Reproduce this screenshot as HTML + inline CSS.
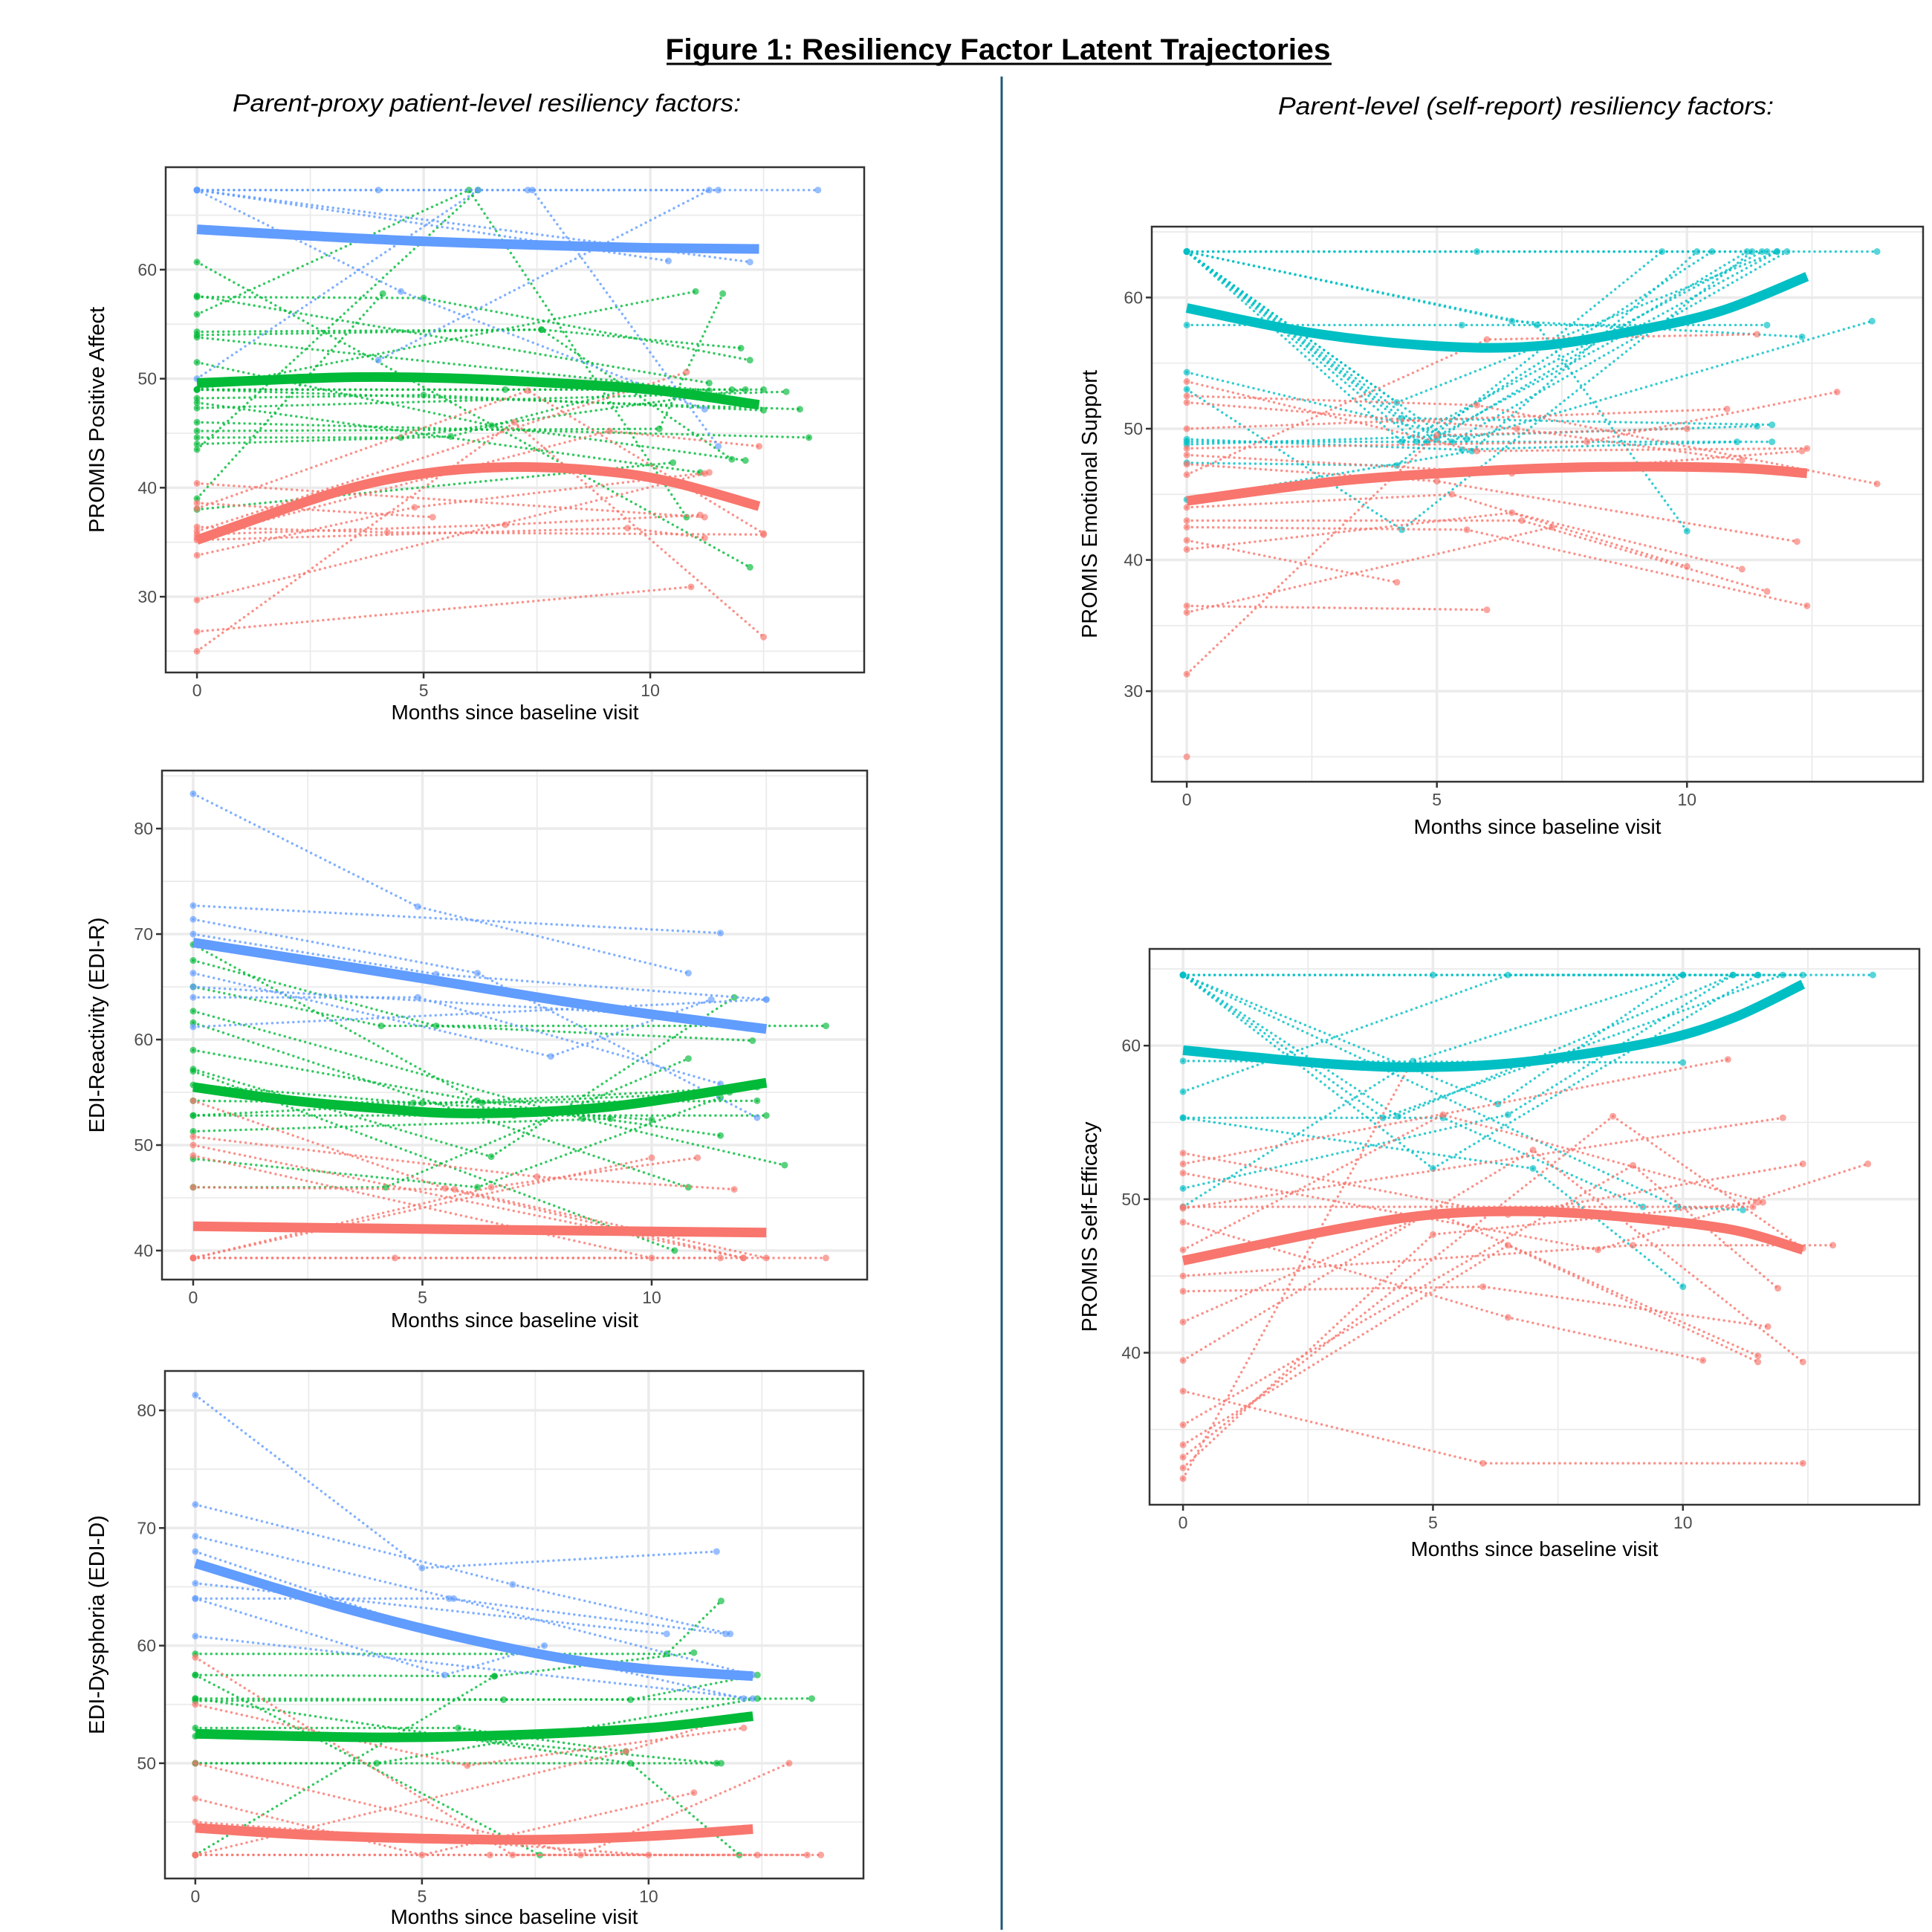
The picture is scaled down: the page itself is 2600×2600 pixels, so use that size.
<!DOCTYPE html>
<html><head><meta charset="utf-8"><style>
html,body{margin:0;padding:0;background:#fff;}
svg{display:block;}
</style></head><body>
<svg id="fig" width="2600" height="2600" viewBox="0 0 2600 2600" xmlns="http://www.w3.org/2000/svg">
<rect width="2600" height="2600" fill="#fff"/>
<text x="1343" y="80" text-anchor="middle" font-family="'Liberation Sans Narrow','Liberation Sans',sans-serif" font-weight="bold" font-size="40" textLength="895" lengthAdjust="spacingAndGlyphs">Figure 1: Resiliency Factor Latent Trajectories</text>
<line x1="897" y1="86" x2="1792" y2="86" stroke="#000" stroke-width="3"/>
<line x1="1348" y1="103" x2="1348" y2="2597" stroke="#1f5a73" stroke-width="3"/>
<text x="313" y="150" font-family="'Liberation Sans Narrow','Liberation Sans',sans-serif" font-style="italic" font-size="33" textLength="684" lengthAdjust="spacingAndGlyphs">Parent-proxy patient-level resiliency factors:</text>
<text x="1720" y="154" font-family="'Liberation Sans Narrow','Liberation Sans',sans-serif" font-style="italic" font-size="33" textLength="667" lengthAdjust="spacingAndGlyphs">Parent-level (self-report) resiliency factors:</text>
<g id="panels"></g>
</svg>
<script>
// ---------- DATA ----------
const COLORS = {blue:'#619CFF', green:'#00BA38', red:'#F8766D', teal:'#00BFC4'};

// Panel 1: PROMIS Positive Affect
const p1Ticks = [30,40,50,60];
const p1BlueMean = [[0,63.7],[2.5,63.1],[5,62.6],[8,62.2],[10,62.0],[12.4,61.9]];
const p1GreenMean = [[0,49.6],[3,50.1],[5,50.1],[7,49.8],[10,49.0],[12.4,47.6]];
const p1RedMean = [[0,35.2],[3,39.5],[5,41.3],[7,41.9],[9,41.5],[10.5,40.5],[12.4,38.3]];
const p1Blue = [[[0,67.3],[13.7,67.3]],[[0,67.3],[4,67.3],[7.3,67.3],[11.5,67.3]],[[0,67.3],[12.2,60.7]],[[0,67.3],[4.5,58],[11.2,47.2]],[[0,50],[6.2,67.3]],[[4,51.7],[11.3,67.3]],[[7.4,67.3],[11.5,43.8]],[[0,67.3],[10.4,60.8]]];
const p1Green = [[[0,57.5],[5,57.4],[12.2,51.7]],[[0,54],[7.6,54.5],[12,52.8]],[[0,53.8],[11.3,48.9]],[[0,55.9],[6,67.3],[10.8,37.3]],[[0,49],[12.5,49]],[[0,49],[11,58]],[[0,47.3],[13,48.8]],[[0,46],[13.5,44.6]],[[0,44.6],[4.5,44.6],[12.1,49]],[[0,43.5],[6.2,67.3]],[[0,39],[4.1,57.8]],[[0,38],[10.5,42.3]],[[0,51.5],[6.5,45.7],[12.1,42.5]],[[0,60.7],[12.2,32.7]],[[0,45.2],[10.2,45.4],[11.6,57.8]],[[0,48.2],[5,48.5],[12.5,47.1]],[[0,54.3],[7.6,54.5],[11.8,42.6]],[[0,44],[5.6,44.7],[9.5,49]],[[0,49],[13.3,47.2]],[[0,57.6],[11.3,49.6]],[[0,47.8],[11.1,41.4]],[[0,49],[6.8,49],[11.8,49]]];
const p1Red = [[[0,40.4],[11.2,37.3]],[[0,38.6],[5.2,37.3]],[[0,38.1],[7.3,48.9],[12.5,35.8]],[[0,36],[10.8,50.6]],[[0,35.4],[9.1,45.2],[12.4,43.8]],[[0,36.4],[4.2,35.9],[12.5,35.7]],[[0,35.7],[6.8,36.6],[11.1,37.5]],[[0,33.8],[4.8,38.2],[11.3,41.4]],[[0,29.7],[11.2,41.3]],[[0,26.8],[10.9,30.9]],[[0,25],[7,46],[12.5,26.3]],[[0,35.2],[9.5,36.3],[11.2,35.4]]];

// Panel 2: EDI-Reactivity
const p2Ticks = [40,50,60,70,80];
const p2BlueMean = [[0,69.2],[2.5,67.5],[5,65.8],[9,63],[12.5,61]];
const p2GreenMean = [[0,55.5],[2,54.3],[4,53.5],[6,53],[9,53.6],[12.5,55.9]];
const p2RedMean = [[0,42.3],[6,42],[12.5,41.7]];
const p2Blue = [[[0,83.3],[4.9,72.6],[10.8,66.3]],[[0,72.7],[11.5,70.1]],[[0,71.4],[6.2,66.3],[12.3,52.6]],[[0,70],[5.3,66.2],[12.5,63.8]],[[0,66.3],[7.8,58.4],[11.3,63.8]],[[0,65],[9.9,62.4]],[[0,61.2],[12.5,63.8]],[[0,64],[4.9,64],[11.5,55.8]]];
const p2Green = [[[0,69],[6.3,54],[11.7,55]],[[0,67.5],[5.3,61.3],[12.2,59.9]],[[0,65],[4.1,61.3],[13.8,61.3]],[[0,62.7],[8.5,52.5],[12.9,48.1]],[[0,61.6],[10.8,46]],[[0,59],[6.2,54.2],[11.5,50.9]],[[0,57.2],[6.5,48.9],[11.8,64]],[[0,55.7],[4.8,54],[12.3,54.2]],[[0,54.2],[5,54],[10,52.4]],[[0,52.8],[7,52.8],[12.5,52.8]],[[0,52.8],[12.3,55.5]],[[0,51.3],[9.1,52.5]],[[0,48.7],[6.2,46],[11.5,54.5]],[[0,46],[4.2,46],[10.8,58.2]],[[0,57],[10.5,40]]];
const p2Red = [[[0,54.2],[5.5,45.9],[12,39.3]],[[0,50.8],[7.5,47],[11.8,45.8]],[[0,49],[10,39.3]],[[0,39.3],[13.8,39.3]],[[0,39.3],[4.4,39.3],[11.5,39.3]],[[0,39.3],[6.5,46],[11,48.8]],[[0,39.3],[10,48.8]],[[0,50],[12,39.3]],[[0,46],[5.7,45.8],[12.5,39.3]]];

// Panel 3: EDI-Dysphoria
const p3Ticks = [50,60,70,80];
const p3BlueMean = [[0,67],[3,63.5],[5.5,61],[8,59],[10,58],[12.3,57.4]];
const p3GreenMean = [[0,52.5],[4,52.2],[7,52.4],[10,53],[12.3,54]];
const p3RedMean = [[0,44.5],[2.5,43.9],[5,43.6],[7.5,43.5],[10,43.8],[12.3,44.4]];
const p3Blue = [[[0,81.3],[5,66.6],[11.5,68]],[[0,72],[7,65.2],[11.8,61]],[[0,69.3],[5.7,64],[12.3,57.5]],[[0,68],[4.6,62],[12.1,55.5]],[[0,65.3],[10.4,61]],[[0,64],[5.6,64],[11.7,61]],[[0,60.8],[12.3,55.5]],[[0,64],[5.5,57.5],[7.7,60]]];
const p3Green = [[[0,59.3],[10.4,59.3],[11.6,63.8]],[[0,57.5],[6.6,57.4],[11,59.4]],[[0,55.3],[6.8,55.4],[13.6,55.5]],[[0,55.5],[9.6,55.4],[12.4,57.5]],[[0,53],[5.8,53],[9.5,51]],[[0,52.3],[5.4,52.3],[11.5,50]],[[0,50],[11.6,50]],[[0,50],[4,50],[12.4,55.5]],[[0,57.5],[7.6,42.2]],[[0,42.2],[6.6,57.4]],[[0,55.5],[9.6,50],[12,42.2]]];
const p3Red = [[[0,59],[7,42.2],[13.5,42.2]],[[0,55],[6,49.8],[12.1,53]],[[0,50],[8.5,42.2],[13.1,50]],[[0,42.2],[13.8,42.2]],[[0,42.2],[6.5,42.2],[12.4,42.2]],[[0,42.2],[9.5,51],[11.5,53.5]],[[0,45],[10,42.2]],[[0,47],[5,42.2],[11,47.5]]];

// Panel 4: PROMIS Emotional Support
const p4Ticks = [30,40,50,60];
const p4TealMean = [[0,59.2],[2.5,57.3],[5,56.3],[7,56.3],[9,57.5],[10.7,59],[12.4,61.6]];
const p4RedMean = [[0,44.5],[3,46],[6,46.8],[8.5,47.1],[11,47],[12.4,46.6]];
const p4Teal = [[[0,63.5],[13.8,63.5]],[[0,63.5],[5.8,63.5],[11.6,63.5]],[[0,63.5],[4.3,49],[11.5,63.5]],[[0,63.5],[4.8,49],[11.8,63.5]],[[0,63.5],[5.3,49],[12,63.5]],[[0,63.5],[4.6,49],[10.5,63.5]],[[0,63.5],[5,49.2],[11.2,63.5]],[[0,63.5],[4.2,52],[11.8,63.5]],[[0,63.5],[6.5,58.2],[12.3,57]],[[0,63.5],[4.3,50.8],[11.7,50.3]],[[0,63.5],[7,57.9],[10,42.2]],[[0,57.9],[5.5,57.9],[11.6,57.9]],[[0,54.3],[5.6,49.2],[13.7,58.2]],[[0,53],[4.3,42.3],[11.3,63.5]],[[0,49],[11.7,49]],[[0,49.2],[5.5,48.4],[11,49]],[[0,48.8],[11.4,50.2]],[[0,44.6],[5.7,48.3],[10.2,63.5]],[[0,47.4],[4.2,47.2],[9.5,63.5]]];
const p4Red = [[[0,53.6],[5.8,48.3],[12.4,48.5]],[[0,52.5],[5.8,51.8],[13.8,45.8]],[[0,52],[6.6,50],[11.1,47.6]],[[0,50],[10.8,51.5]],[[0,48.5],[8,49],[13,52.8]],[[0,48],[6.5,46.6],[12.3,48.3]],[[0,47.3],[5,46],[12.2,41.4]],[[0,46.5],[6,56.8],[11.4,57.2]],[[0,44],[5.3,45],[10,39.5]],[[0,43],[6.7,43],[11.6,37.6]],[[0,42.5],[5.6,42.3],[12.4,36.5]],[[0,41.5],[4.2,38.3]],[[0,40.8],[6.5,43.6],[11.1,39.3]],[[0,36.5],[6,36.2]],[[0,31.3],[5,49.5],[10,50]],[[0,36],[7.3,42.5]],[[0,25]]];

// Panel 5: PROMIS Self-Efficacy
const p5Ticks = [40,50,60];
const p5TealMean = [[0,59.7],[3,58.8],[5,58.6],[7,59],[9.5,60.3],[11,61.8],[12.4,64]];
const p5RedMean = [[0,46],[3,48],[5,49],[7,49.2],[9,48.8],[11,48],[12.4,46.7]];
const p5Teal = [[[0,64.6],[13.8,64.6]],[[0,64.6],[5,64.6],[11.5,64.6]],[[0,64.6],[4.3,55.4],[11,64.6]],[[0,64.6],[5,52],[11.5,64.6]],[[0,64.6],[4,55.3],[12,64.6]],[[0,64.6],[6.3,56.2],[10,64.6]],[[0,64.6],[9.9,49.5],[11.2,49.3]],[[0,59],[10,58.9]],[[0,57],[6.5,64.6],[12.4,64.6]],[[0,55.3],[5.2,55.3],[9.2,49.5]],[[0,55.3],[7,52],[10,44.3]],[[0,49.5],[4.6,59],[10,64.6]],[[0,50.7],[6.5,55.5],[11,64.6]]];
const p5Red = [[[0,53],[6.5,49],[12.4,52.3]],[[0,52.3],[10.9,59.1]],[[0,51.7],[8.3,46.7],[13.7,52.3]],[[0,49.5],[11.4,49.5]],[[0,49.4],[12,55.3]],[[0,48.5],[6.5,42.3],[10.4,39.5]],[[0,46.7],[5.2,55.5],[11.6,49.8]],[[0,45],[9,47],[13,47]],[[0,44],[6,44.3],[11.7,41.7]],[[0,42],[5,49.2],[11.5,39.8]],[[0,39.5],[7,53.2],[12.4,39.4]],[[0,37.5],[6,32.8],[12.4,32.8]],[[0,35.3],[9,52.2],[11.9,44.2]],[[0,34],[6.5,47],[11.5,39.4]],[[0,32.5],[5,47.7],[11.5,49.8]],[[0,31.8],[4.5,58.5]],[[0,33.2],[8.6,55.4],[12.4,46.8]]];

const xTicks = [0,5,10];

// ---------- LAYOUT ----------
const panels = [
 {id:'positive-affect', title:'PROMIS Positive Affect', box:[223,225,1163,905], xd:[-0.69,14.72], yd:[23.05,69.4], ticks:p1Ticks, ytitleX:140, xtitleY:968,
  indiv:[['green',p1Green],['red',p1Red],['blue',p1Blue]], means:[['blue',p1BlueMean],['green',p1GreenMean],['red',p1RedMean]]},
 {id:'edi-reactivity', title:'EDI-Reactivity (EDI-R)', box:[218,1037,1167,1722], xd:[-0.68,14.7], yd:[37.25,85.5], ticks:p2Ticks, ytitleX:140, xtitleY:1786,
  indiv:[['green',p2Green],['red',p2Red],['blue',p2Blue]], means:[['blue',p2BlueMean],['green',p2GreenMean],['red',p2RedMean]]},
 {id:'edi-dysphoria', title:'EDI-Dysphoria (EDI-D)', box:[222,1845,1162,2528], xd:[-0.67,14.74], yd:[40.2,83.35], ticks:p3Ticks, ytitleX:140, xtitleY:2589,
  indiv:[['green',p3Green],['red',p3Red],['blue',p3Blue]], means:[['blue',p3BlueMean],['green',p3GreenMean],['red',p3RedMean]]},
 {id:'emotional-support', title:'PROMIS Emotional Support', box:[1550,305,2588,1052], xd:[-0.7,14.72], yd:[23.1,65.4], ticks:p4Ticks, ytitleX:1476, xtitleY:1122,
  indiv:[['teal',p4Teal],['red',p4Red]], means:[['teal',p4TealMean],['red',p4RedMean]]},
 {id:'self-efficacy', title:'PROMIS Self-Efficacy', box:[1547,1277,2583,2025], xd:[-0.67,14.73], yd:[30.1,66.3], ticks:p5Ticks, ytitleX:1476, xtitleY:2094,
  indiv:[['teal',p5Teal],['red',p5Red]], means:[['teal',p5TealMean],['red',p5RedMean]]}
];

const NS='http://www.w3.org/2000/svg';
function mk(tag, attrs, parent){const e=document.createElementNS(NS,tag);for(const k in attrs)e.setAttribute(k,attrs[k]);parent.appendChild(e);return e;}
function smooth(pts){
  let d='M'+pts[0][0].toFixed(1)+','+pts[0][1].toFixed(1);
  for(let i=0;i<pts.length-1;i++){
    const p0=pts[Math.max(0,i-1)],p1=pts[i],p2=pts[i+1],p3=pts[Math.min(pts.length-1,i+2)];
    const c1=[p1[0]+(p2[0]-p0[0])/6,p1[1]+(p2[1]-p0[1])/6];
    const c2=[p2[0]-(p3[0]-p1[0])/6,p2[1]-(p3[1]-p1[1])/6];
    d+=' C'+c1[0].toFixed(1)+','+c1[1].toFixed(1)+' '+c2[0].toFixed(1)+','+c2[1].toFixed(1)+' '+p2[0].toFixed(1)+','+p2[1].toFixed(1);
  }
  return d;
}
const root=document.getElementById('panels');
panels.forEach(p=>{
  const [L,T,R,B]=p.box;
  const sx=v=>L+(v-p.xd[0])/(p.xd[1]-p.xd[0])*(R-L);
  const sy=v=>B-(v-p.yd[0])/(p.yd[1]-p.yd[0])*(B-T);
  const g=mk('g',{},root);
  
  
  const clipId='clip-'+p.id;
  const cp=mk('clipPath',{id:clipId},g); mk('rect',{x:L,y:T,width:R-L,height:B-T},cp);
  for(let v=Math.ceil(p.yd[0]/5)*5; v<=p.yd[1]; v+=5){
    const major=v%10===0;
    const ln=mk('line',{x1:L,x2:R,y1:sy(v),y2:sy(v),stroke:'#ebebeb','stroke-width':major?3.5:1.8},g);
    
    
  }
  for(let v=0; v<=p.xd[1]; v+=2.5){
    const major=v%5===0;
    const ln=mk('line',{y1:T,y2:B,x1:sx(v),x2:sx(v),stroke:'#ebebeb','stroke-width':major?3.5:1.8},g);
    
    
  }
  const plot=mk('g',{'clip-path':'url(#'+clipId+')'},g);
  
  
  p.indiv.forEach(([col,series])=>{
    series.forEach((s,i)=>{
      const sg=mk('g',{},plot);
      
      
      if(s.length>1){
        mk('polyline',{points:s.map(q=>sx(q[0]).toFixed(1)+','+sy(q[1]).toFixed(1)).join(' '),fill:'none',stroke:COLORS[col],'stroke-width':3.4,'stroke-dasharray':'0.1 7','stroke-linecap':'round','stroke-opacity':0.8},sg);
      }
      s.forEach(q=>{
        const c=mk('circle',{cx:sx(q[0]),cy:sy(q[1]),r:4.5,fill:COLORS[col],'fill-opacity':0.65},sg);
        
        
      });
    });
  });
  p.means.forEach(([col,pts])=>{
    const path=mk('path',{d:smooth(pts.map(q=>[sx(q[0]),sy(q[1])])),fill:'none',stroke:COLORS[col],'stroke-width':13},plot);
    
    
  });
  const fr=mk('rect',{x:L,y:T,width:R-L,height:B-T,fill:'none',stroke:'#333','stroke-width':2.5},g);
  
  
  p.ticks.forEach(v=>{
    mk('line',{x1:L-8,x2:L,y1:sy(v),y2:sy(v),stroke:'#333','stroke-width':2.5},g);
    const t=mk('text',{x:L-12,y:sy(v)+8,'text-anchor':'end','font-family':"'Liberation Sans',sans-serif",'font-size':23,fill:'#4d4d4d'},g);
    t.textContent=v;
    
    
  });
  xTicks.forEach(v=>{
    mk('line',{x1:sx(v),x2:sx(v),y1:B,y2:B+8,stroke:'#333','stroke-width':2.5},g);
    const t=mk('text',{x:sx(v),y:B+32,'text-anchor':'middle','font-family':"'Liberation Sans',sans-serif",'font-size':23,fill:'#4d4d4d'},g);
    t.textContent=v;
    
    
  });
  const xt=mk('text',{x:(L+R)/2,y:p.xtitleY,'text-anchor':'middle','font-family':"'Liberation Sans',sans-serif",'font-size':28,fill:'#000'},g);
  xt.textContent='Months since baseline visit';
  
  
  const cy=(T+B)/2;
  const yt=mk('text',{x:p.ytitleX,y:cy,'text-anchor':'middle','font-family':"'Liberation Sans',sans-serif",'font-size':29,fill:'#000',transform:'rotate(-90 '+p.ytitleX+' '+cy+')'},g);
  yt.textContent=p.title;
  
  
});
</script>
</body></html>
